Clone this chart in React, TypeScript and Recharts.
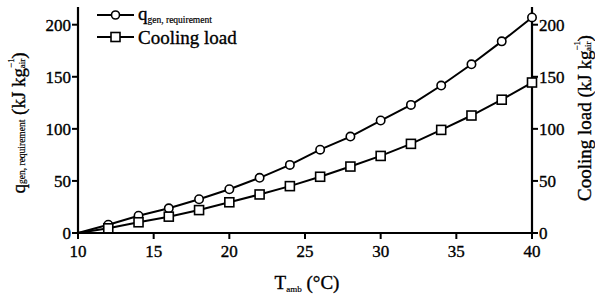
import React from 'react';
import { ComposedChart, Line, XAxis, YAxis } from 'recharts';

const temps = [10, 12, 14, 16, 18, 20, 22, 24, 26, 28, 30, 32, 34, 36, 38, 40];
const qGen = [0, 8, 16.6, 23.7, 32.4, 42, 53, 65.4, 80, 92.6, 108, 123, 141.6, 162, 184, 207];
const coolingLoad = [0, 4.5, 10.3, 15.7, 22, 29.5, 37, 45, 54, 63.8, 74, 85.6, 99, 112.8, 128, 144.5];
const xTicks = [10, 15, 20, 25, 30, 35, 40];
const yTicks = [0, 50, 100, 150, 200];

const data = temps.map((t, i) => ({ t, q: qGen[i], c: coolingLoad[i] }));

const FONT = "'Liberation Serif', 'Times New Roman', serif";
const TS = 0.35;

const CircleDot = (props: any) => {
  const { cx, cy, payload, index } = props;
  if (payload.t === 10 || cx == null) return <g key={`cd${index}`} />;
  return <circle key={`cd${index}`} cx={cx} cy={cy} r={4.2} fill="#fff" stroke="#000" strokeWidth={1.6} />;
};

const SquareDot = (props: any) => {
  const { cx, cy, payload, index } = props;
  if (payload.t === 10 || cx == null) return <g key={`sd${index}`} />;
  return <rect key={`sd${index}`} x={cx - 4.5} y={cy - 4.5} width={9} height={9} fill="#fff" stroke="#000" strokeWidth={1.6} />;
};

const XTick = (props: any) => {
  const { x, y, payload } = props;
  return (
    <text x={x} y={y} dy={16} textAnchor="middle" fontFamily={FONT} fontSize={17} fill="#000" stroke="#000" strokeWidth={TS}>
      {payload.value}
    </text>
  );
};

const LeftTick = (props: any) => {
  const { x, y, payload } = props;
  return (
    <text x={x} y={y} dy={6} textAnchor="end" fontFamily={FONT} fontSize={17} fill="#000" stroke="#000" strokeWidth={TS}>
      {payload.value}
    </text>
  );
};

const RightTick = (props: any) => {
  const { x, y, payload } = props;
  return (
    <text x={x} y={y} dy={6} textAnchor="start" fontFamily={FONT} fontSize={17} fill="#000" stroke="#000" strokeWidth={TS}>
      {payload.value}
    </text>
  );
};

const LeftLabel = () => {
  const cx = 18;
  const cy = 123;
  return (
    <text x={cx} y={cy} transform={`rotate(-90, ${cx}, ${cy})`} textAnchor="middle" fontFamily={FONT} fontSize={19} fill="#000" stroke="#000" strokeWidth={TS} dominantBaseline="central">
      <tspan>q</tspan>
      <tspan fontSize={9.5} strokeWidth={0.2} dy={4}>gen, requirement</tspan>
      <tspan dy={-4}> (kJ kg</tspan>
      <tspan fontSize={9} strokeWidth={0.2} dy={-7}>−1</tspan>
      <tspan fontSize={9} strokeWidth={0.2} dx={-10} dy={11}>air</tspan>
      <tspan dy={-4}>)</tspan>
    </text>
  );
};

const RightLabel = () => {
  const cx = 584;
  const cy = 118;
  return (
    <text x={cx} y={cy} transform={`rotate(-90, ${cx}, ${cy})`} textAnchor="middle" fontFamily={FONT} fontSize={19} fill="#000" stroke="#000" strokeWidth={TS} dominantBaseline="central">
      <tspan>Cooling load (kJ kg</tspan>
      <tspan fontSize={9} strokeWidth={0.2} dy={-7}>−1</tspan>
      <tspan fontSize={9} strokeWidth={0.2} dx={-10} dy={11}>air</tspan>
      <tspan dy={-4}>)</tspan>
    </text>
  );
};

const XLabel = () => {
  return (
    <text x={307} y={289} textAnchor="middle" fontFamily={FONT} fontSize={19} fill="#000" stroke="#000" strokeWidth={TS}>
      <tspan>T</tspan>
      <tspan fontSize={9} strokeWidth={0.2} dy={3}>amb</tspan>
      <tspan dy={-3}> (°C)</tspan>
    </text>
  );
};

const textStroke: any = { WebkitTextStroke: '0.35px #000' };

const LegendBox = () => (
  <div style={{ position: 'absolute', left: 96, top: 4, fontFamily: FONT, fontSize: 19, color: '#000', ...textStroke }}>
    <div style={{ display: 'flex', alignItems: 'center', height: 22 }}>
      <svg width={40} height={14} style={{ marginRight: 2 }}>
        <line x1={1} y1={7} x2={38} y2={7} stroke="#000" strokeWidth={2} />
        <circle cx={19.5} cy={7} r={4} fill="#fff" stroke="#000" strokeWidth={1.6} />
      </svg>
      <span style={{ lineHeight: '19px' }}>q<span style={{ fontSize: 9.5, position: 'relative', top: 3, WebkitTextStroke: '0.2px #000' }}>gen, requirement</span></span>
    </div>
    <div style={{ display: 'flex', alignItems: 'center', height: 22 }}>
      <svg width={40} height={14} style={{ marginRight: 2 }}>
        <line x1={1} y1={7} x2={38} y2={7} stroke="#000" strokeWidth={2} />
        <rect x={15} y={2.5} width={9} height={9} fill="#fff" stroke="#000" strokeWidth={1.6} />
      </svg>
      <span style={{ lineHeight: '19px' }}>Cooling load</span>
    </div>
  </div>
);

export default function App() {
  return (
    <div style={{ position: 'fixed', left: 0, top: 0, width: 595, height: 297, background: '#fff' }}>
      <ComposedChart width={595} height={297} data={data} margin={{ top: 7, right: 0, bottom: 0, left: 0 }}>
        <XAxis
          dataKey="t"
          type="number"
          domain={[10, 40]}
          ticks={xTicks}
          height={64}
          tick={<XTick />}
          tickSize={6}
          axisLine={{ stroke: '#000', strokeWidth: 2.2 }}
          tickLine={{ stroke: '#000', strokeWidth: 2 }}
          label={{ content: XLabel }}
        />
        <YAxis
          yAxisId="left"
          domain={[0, 217]}
          ticks={yTicks}
          width={78}
          tick={<LeftTick />}
          tickSize={6}
          tickMargin={1}
          axisLine={{ stroke: '#000', strokeWidth: 2.2 }}
          tickLine={{ stroke: '#000', strokeWidth: 2 }}
          label={{ content: LeftLabel }}
        />
        <YAxis
          yAxisId="right"
          orientation="right"
          domain={[0, 217]}
          ticks={yTicks}
          width={63}
          tick={<RightTick />}
          tickSize={6}
          tickMargin={1}
          axisLine={{ stroke: '#000', strokeWidth: 2.2 }}
          tickLine={{ stroke: '#000', strokeWidth: 2 }}
          label={{ content: RightLabel }}
        />
        <Line yAxisId="left" dataKey="q" stroke="#000" strokeWidth={2} dot={CircleDot} isAnimationActive={false} />
        <Line yAxisId="right" dataKey="c" stroke="#000" strokeWidth={2} dot={SquareDot} isAnimationActive={false} />
      </ComposedChart>
      <LegendBox />
    </div>
  );
}
